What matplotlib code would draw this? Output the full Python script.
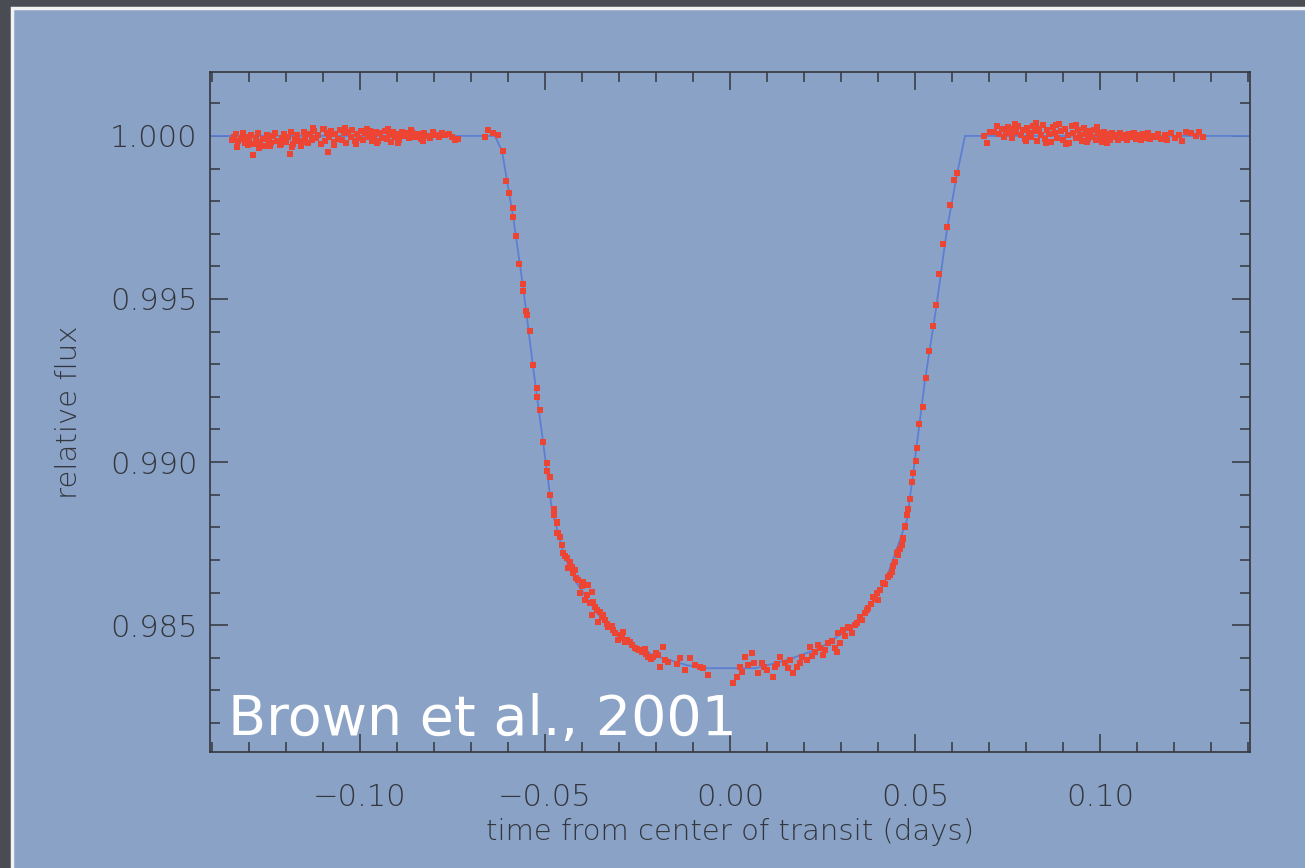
import numpy as np
import matplotlib.pyplot as plt
from matplotlib.patches import Rectangle
from matplotlib.ticker import MultipleLocator, FuncFormatter

# model transit curve
model_t = [-0.145, -0.0635, -0.0616, -0.0586, -0.0559, -0.0532, -0.0505, -0.0481,
           -0.0459, -0.0449, -0.0414, -0.0359, -0.0297, -0.0208, -0.0116, -0.0062,
           0.0070, 0.0154, 0.0243, 0.0316, 0.0378, 0.0424, 0.0459, 0.0478,
           0.0495, 0.0527, 0.0559, 0.0586, 0.0614, 0.0635, 0.145]
model_f = [1.0, 1.0, 0.99954, 0.99752, 0.99537, 0.99291, 0.99061, 0.98853,
           0.98760, 0.98715, 0.98629, 0.98537, 0.98463, 0.98408, 0.98377, 0.98368,
           0.98368, 0.98393, 0.98429, 0.98485, 0.98555, 0.98647, 0.98761, 0.98822,
           0.98966, 0.99252, 0.99488, 0.99712, 0.99886, 1.0, 1.0]

# out of transit, before ingress
pre_t = [-0.1345, -0.1339, -0.1334, -0.1328, -0.1322, -0.1316, -0.1311, -0.1305, -0.1299, -0.1293,
         -0.1289, -0.1286, -0.1281, -0.1275, -0.1269, -0.1263, -0.1258, -0.1252, -0.1246, -0.1240,
         -0.1235, -0.1229, -0.1223, -0.1217, -0.1211, -0.1205,
         -0.1199, -0.1193, -0.1189, -0.1187, -0.1181, -0.1176, -0.1170, -0.1164, -0.1158, -0.1152,
         -0.1147, -0.1141, -0.1135, -0.1129, -0.1123, -0.1118, -0.1112, -0.1106, -0.1100, -0.1095,
         -0.1089, -0.1086, -0.1083, -0.1077, -0.1071, -0.1066, -0.1060, -0.1054, -0.1048, -0.1043,
         -0.1037, -0.1031, -0.1025, -0.1020, -0.1014, -0.1008,
         -0.1002, -0.0997, -0.0991, -0.0985, -0.0979, -0.0974, -0.0968, -0.0962, -0.0956, -0.0951,
         -0.0945, -0.0939, -0.0933, -0.0927, -0.0922, -0.0916, -0.0910, -0.0904, -0.0898, -0.0893,
         -0.0887, -0.0881,
         -0.0874, -0.0866, -0.0858, -0.0850, -0.0842, -0.0834, -0.0826, -0.0818, -0.0810, -0.0802,
         -0.0794, -0.0786, -0.0778, -0.0770, -0.0760, -0.0752, -0.0743, -0.0736,
         -0.1331, -0.1302, -0.1272, -0.1244, -0.1214, -0.1184, -0.1155, -0.1126, -0.1098, -0.1069,
         -0.1040, -0.1011, -0.0982, -0.0953, -0.0925, -0.0896, -0.0862, -0.0830]
pre_f = [0.99988, 0.99996, 1.00005, 0.99983, 0.99992, 1.00008, 0.99979, 0.99998, 0.99986, 1.00004,
         0.99942, 0.99975, 0.99995, 1.00010, 0.99982, 0.99991, 0.99970, 1.00002, 0.99987, 0.99978,
         0.99999, 1.00009, 0.99985, 0.99972, 0.99994, 1.00006,
         0.99981, 0.99997, 0.99945, 1.00011, 0.99976, 0.99990, 1.00004, 0.99985, 0.99968, 1.00013,
         0.99996, 0.99979, 1.00007, 0.99988, 1.00016, 0.99993, 1.00002, 0.99974, 1.00020, 0.99985,
         1.00010, 0.99951, 0.99996, 1.00014, 0.99981, 1.00005, 0.99992, 1.00017, 0.99987, 1.00008,
         0.99978, 1.00012, 0.99997, 1.00019, 0.99984, 1.00006,
         0.99993, 1.00014, 0.99988, 1.00008, 0.99997, 1.00016, 0.99985, 1.00004, 1.00011, 0.99983,
         1.00009, 0.99995, 1.00015, 0.99990, 1.00003, 0.99981, 1.00012, 0.99996, 1.00007, 0.99986,
         1.00013, 0.99999,
         1.00008, 0.99994, 1.00011, 0.99998, 1.00005, 0.99990, 1.00009, 1.00001, 0.99995, 1.00012,
         1.00003, 0.99996, 1.00009, 1.00002, 1.00006, 0.99997, 0.99988, 0.99992,
         0.99966, 0.99972, 0.99964, 0.99969, 0.99975, 0.99967, 0.99980, 1.00024, 1.00022, 0.99972,
         1.00025, 0.99976, 1.00021, 0.99978, 1.00020, 0.99979, 1.00017, 0.99984]

# ingress
ing_t = [-0.0662, -0.0653, -0.0640, -0.0626, -0.0614, -0.0605, -0.0596, -0.0587, -0.0587, -0.0578,
         -0.0569, -0.0560, -0.0559, -0.0551, -0.0549, -0.0541, -0.0533, -0.0522, -0.0522, -0.0514,
         -0.0505, -0.0495, -0.0495, -0.0485, -0.0485, -0.0476, -0.0476, -0.0467, -0.0467]
ing_f = [0.99996, 1.00018, 1.00010, 1.00003, 0.99954, 0.99862, 0.99826, 0.99778, 0.99751, 0.99693,
         0.99606, 0.99545, 0.99525, 0.99464, 0.99451, 0.99403, 0.99298, 0.99226, 0.99198, 0.99160,
         0.99062, 0.98998, 0.98973, 0.98953, 0.98899, 0.98855, 0.98837, 0.98814, 0.98781]

# transit bottom
bot_t = [-0.0468, -0.0464, -0.0459, -0.0455, -0.0450, -0.0445, -0.0441, -0.0437, -0.0432, -0.0428,
         -0.0424, -0.0419, -0.0415, -0.0410, -0.0405, -0.0401, -0.0396, -0.0392, -0.0387, -0.0383,
         -0.0378, -0.0374, -0.0374, -0.0370, -0.0365, -0.0360, -0.0356, -0.0351, -0.0347, -0.0343,
         -0.0338, -0.0333, -0.0329, -0.0320, -0.0315, -0.0310, -0.0302, -0.0297, -0.0292, -0.0288,
         -0.0284, -0.0279, -0.0270, -0.0266, -0.0258, -0.0252, -0.0245, -0.0239, -0.0230, -0.0226,
         -0.0221, -0.0214, -0.0207, -0.0200, -0.0194, -0.0189, -0.0180, -0.0175, -0.0167, -0.0144,
         -0.0135, -0.0122, -0.0108, -0.0095, -0.0081, -0.0072, -0.0059,
         0.0008, 0.0019, 0.0027, 0.0032, 0.0041, 0.0049, 0.0059, 0.0065, 0.0076, 0.0086,
         0.0093, 0.0100, 0.0116, 0.0122, 0.0128, 0.0135, 0.0149, 0.0157, 0.0163, 0.0170,
         0.0181, 0.0188, 0.0195, 0.0208, 0.0216, 0.0222, 0.0230, 0.0237, 0.0243, 0.0251,
         0.0258, 0.0265, 0.0275, 0.0284, 0.0289, 0.0292, 0.0298, 0.0305, 0.0312, 0.0319,
         0.0325, 0.0330, 0.0337, 0.0343, 0.0351, 0.0357, 0.0364, 0.0370, 0.0373, 0.0380,
         0.0386, 0.0392, 0.0397, 0.0400, 0.0406, 0.0414, 0.0420, 0.0427, 0.0432, 0.0438,
         0.0441, 0.0446, 0.0454, 0.0458, 0.0465, 0.0468, 0.0473]
bot_f = [0.98817, 0.98781, 0.98771, 0.98745, 0.98720, 0.98712, 0.98705, 0.98674, 0.98694, 0.98678,
         0.98659, 0.98669, 0.98645, 0.98638, 0.98597, 0.98620, 0.98633, 0.98577, 0.98592, 0.98623,
         0.98567, 0.98602, 0.98531, 0.98571, 0.98556, 0.98545, 0.98510, 0.98541, 0.98525, 0.98530,
         0.98515, 0.98502, 0.98495, 0.98498, 0.98485, 0.98475, 0.98454, 0.98469, 0.98462, 0.98479,
         0.98449, 0.98454, 0.98447, 0.98439, 0.98430, 0.98428, 0.98424, 0.98418, 0.98428, 0.98412,
         0.98403, 0.98395, 0.98403, 0.98415, 0.98408, 0.98372, 0.98433, 0.98392, 0.98388, 0.98382,
         0.98398, 0.98362, 0.98398, 0.98377, 0.98372, 0.98368, 0.98347,
         0.98322, 0.98340, 0.98372, 0.98356, 0.98402, 0.98377, 0.98414, 0.98385, 0.98353, 0.98383,
         0.98372, 0.98362, 0.98340, 0.98371, 0.98380, 0.98402, 0.98383, 0.98368, 0.98392, 0.98353,
         0.98371, 0.98385, 0.98402, 0.98393, 0.98433, 0.98405, 0.98417, 0.98440, 0.98429, 0.98408,
         0.98425, 0.98445, 0.98452, 0.98429, 0.98417, 0.98475, 0.98445, 0.98485, 0.98468, 0.98494,
         0.98490, 0.98475, 0.98500, 0.98506, 0.98525, 0.98515, 0.98537, 0.98546, 0.98552, 0.98565,
         0.98586, 0.98580, 0.98598, 0.98577, 0.98608, 0.98629, 0.98625, 0.98647, 0.98654, 0.98663,
         0.98680, 0.98693, 0.98715, 0.98732, 0.98745, 0.98767, 0.98801]

# egress
egr_t = [0.0451, 0.0455, 0.0464, 0.0467, 0.0473, 0.0478, 0.0482, 0.0486, 0.0491, 0.0495,
         0.0502, 0.0505, 0.0512, 0.0521, 0.0530, 0.0539, 0.0548, 0.0557, 0.0566, 0.0576,
         0.0586, 0.0595, 0.0604, 0.0614]
egr_f = [0.98720, 0.98725, 0.98745, 0.98763, 0.98804, 0.98837, 0.98855, 0.98886, 0.98940, 0.98965,
         0.99004, 0.99044, 0.99117, 0.99168, 0.99259, 0.99341, 0.99418, 0.99482, 0.99578, 0.99670,
         0.99720, 0.99788, 0.99864, 0.99886]

# out of transit, after egress
post_t = [0.0685, 0.0694, 0.0703, 0.0714, 0.0722, 0.0728, 0.0734, 0.0740, 0.0745, 0.0751,
          0.0757, 0.0762, 0.0768, 0.0774, 0.0779, 0.0785, 0.0791, 0.0796,
          0.0802, 0.0807, 0.0813, 0.0818, 0.0824, 0.0829, 0.0835, 0.0840, 0.0846, 0.0851,
          0.0857, 0.0862, 0.0868, 0.0873, 0.0879, 0.0884, 0.0890, 0.0895, 0.0901, 0.0906,
          0.0912, 0.0917, 0.0923, 0.0928, 0.0934, 0.0939, 0.0945, 0.0950, 0.0956, 0.0961,
          0.0967, 0.0972, 0.0978, 0.0983, 0.0989, 0.0994, 0.1000, 0.1005, 0.1011, 0.1016,
          0.1022, 0.1027, 0.1033, 0.1038, 0.1044, 0.1049,
          0.1055, 0.1061, 0.1067, 0.1073, 0.1079, 0.1085, 0.1091, 0.1097, 0.1103, 0.1110,
          0.1116, 0.1122, 0.1129, 0.1135, 0.1141, 0.1148, 0.1156, 0.1165, 0.1174, 0.1182,
          0.1192, 0.1203, 0.1212, 0.1222, 0.1233, 0.1245, 0.1258, 0.1268, 0.1277,
          0.0771, 0.0799, 0.0826, 0.0854, 0.0881, 0.0909, 0.0936, 0.0964, 0.0991, 0.1019]
post_f = [1.00001, 0.99978, 1.00013, 1.00013, 1.00029, 1.00005, 1.00020, 0.99996, 1.00015, 1.00027,
          1.00008, 0.99993, 1.00022, 1.00011, 1.00030, 1.00002, 1.00018, 0.99990,
          1.00024, 1.00009, 0.99996, 1.00031, 1.00014, 0.99985, 1.00022, 1.00004, 1.00035, 0.99992,
          1.00018, 1.00007, 0.99981, 1.00026, 1.00010, 0.99995, 1.00038, 1.00016, 0.99988, 1.00021,
          1.00003, 0.99978, 1.00029, 1.00008, 0.99993, 1.00017, 1.00002, 0.99984, 1.00024, 1.00006,
          0.99991, 1.00014, 0.99998, 1.00019, 0.99987, 1.00009, 1.00001, 0.99982, 1.00012, 0.99995,
          1.00007, 0.99989, 1.00010, 0.99997, 1.00004, 0.99986,
          1.00008, 0.99993, 1.00003, 0.99989, 1.00006, 0.99996, 1.00010, 0.99991, 1.00002, 0.99987,
          1.00005, 0.99995, 1.00009, 0.99990, 1.00001, 0.99996, 1.00006, 0.99992, 1.00003, 0.99986,
          1.00010, 0.99995, 1.00002, 0.99984, 1.00013, 1.00008, 1.00001, 1.00012, 0.99997,
          1.00036, 0.99983, 1.00040, 0.99979, 1.00033, 0.99976, 1.00034, 0.99980, 1.00028, 0.99978]

obs_t = pre_t + ing_t + bot_t + egr_t + post_t
obs_f = pre_f + ing_f + bot_f + egr_f + post_f

ink = '#33363d'
plt.rcParams['font.family'] = ['DejaVu Sans']


def fmt(nd):
    def f(v, pos):
        s = f'{v:.{nd}f}'
        if abs(v) < 1e-9:
            s = s.lstrip('-')
        return s.replace('-', '\u2212')
    return FuncFormatter(f)


fig = plt.figure(figsize=(13.05, 8.68), dpi=100, facecolor='#494c52')
fig.patches.append(Rectangle((12/1305, -0.05), 1.2, 1 - 8/868 + 0.05, transform=fig.transFigure,
                             facecolor='#89a2c6', edgecolor='#f2f2f2', lw=2.5, zorder=-5))

ax = fig.add_axes([210/1305, 1 - 752/868, 1040/1305, 680/868])
ax.patch.set_visible(False)

ax.plot(model_t, model_f, color='#5d7fd3', lw=1.3, zorder=2)
ax.plot(obs_t, obs_f, 's', color='#ec4534', ms=3.8, mew=0, zorder=3)

ax.set_xlim(-0.1405, 0.1405)
ax.set_ylim(0.98111, 1.00196)
ax.xaxis.set_major_locator(MultipleLocator(0.05))
ax.xaxis.set_minor_locator(MultipleLocator(0.01))
ax.yaxis.set_major_locator(MultipleLocator(0.005))
ax.yaxis.set_minor_locator(MultipleLocator(0.001))
ax.xaxis.set_major_formatter(fmt(2))
ax.yaxis.set_major_formatter(fmt(3))

ax.tick_params(which='both', direction='in', top=True, right=True, color=ink, width=1.1,
               labelcolor=ink, labelsize=22)
ax.tick_params(which='major', length=13)
ax.tick_params(which='minor', length=7)
ax.tick_params(axis='x', which='major', pad=22)
ax.tick_params(axis='y', which='major', pad=9)
for lab in ax.get_xticklabels() + ax.get_yticklabels():
    lab.set_fontweight('light')
for s in ax.spines.values():
    s.set_color(ink)
    s.set_linewidth(1.2)

ax.set_xlabel('time from center of transit (days)', fontsize=21, color=ink, labelpad=5,
              fontweight='light')
ax.set_ylabel('relative flux', fontsize=21, color=ink, labelpad=19, fontweight='light')

fig.text(228/1305, 1 - 735/868, 'Brown et al., 2001', color='white', fontsize=40,
         va='baseline', ha='left')

fig.savefig('out.png', dpi=100, facecolor=fig.get_facecolor())
